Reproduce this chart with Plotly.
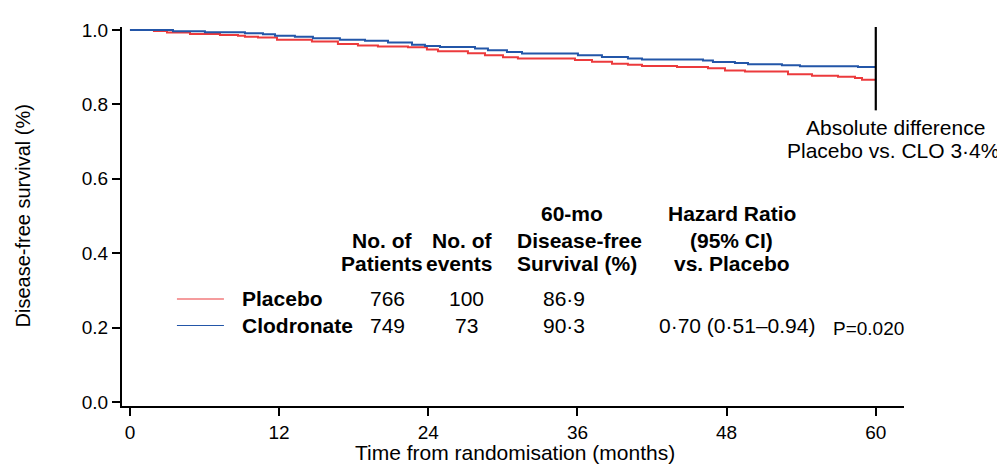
import plotly.graph_objects as go

# Kaplan-Meier step data (months, survival proportion)
placebo_t = [0, 1.93, 2.98, 4.83, 7.24, 8.69, 9.25, 10.30, 11.83, 14.64, 16.73, 18.34, 19.95,
             22.37, 23.89, 24.78, 27.19, 28.56, 30.01, 31.21, 35.80, 37.17, 38.78, 40.06,
             41.19, 44.01, 46.50, 47.87, 49.48, 52.94, 54.87, 56.96, 58.33, 58.89, 60]
placebo_s = [1.0, 0.9974, 0.9929, 0.9894, 0.9868, 0.9842, 0.9815, 0.9797, 0.9736, 0.9691, 0.9620,
             0.9586, 0.9559, 0.9533, 0.9472, 0.9427, 0.9375, 0.9322, 0.9269, 0.9235, 0.9190,
             0.9145, 0.9092, 0.9066, 0.9032, 0.9005, 0.8971, 0.8908, 0.8881, 0.8813, 0.8768,
             0.8741, 0.8707, 0.8662, 0.8662]

clodronate_t = [0, 3.46, 6.03, 9.25, 10.70, 11.67, 13.27, 14.72, 16.89, 18.91, 20.76, 22.69,
                23.73, 24.94, 27.76, 28.80, 30.33, 31.54, 36.04, 37.97, 40.06, 41.19, 46.10,
                46.90, 48.67, 49.72, 52.45, 53.90, 58.57, 60]
clodronate_s = [1.0, 0.9963, 0.9937, 0.9910, 0.9884, 0.9842, 0.9815, 0.9778, 0.9736, 0.9710,
                0.9665, 0.9604, 0.9567, 0.9541, 0.9499, 0.9454, 0.9409, 0.9367, 0.9322, 0.9277,
                0.9235, 0.9208, 0.9182, 0.9137, 0.9111, 0.9077, 0.9050, 0.9024, 0.9005, 0.9005]

x_ticks = [0, 12, 24, 36, 48, 60]
y_ticks = [0.0, 0.2, 0.4, 0.6, 0.8, 1.0]

groups = ["Placebo", "Clodronate"]
n_patients = ["766", "749"]
n_events = ["100", "73"]
dfs_60 = ["86·9", "90·3"]
hazard = ["", "0·70 (0·51–0.94)"]
p_value = "P=0.020"

RED = "#ec3a3c"
BLUE = "#2356a8"
FONT = "Liberation Sans, Arial, Helvetica, sans-serif"

W, H = 1005, 464
ML, MR, MT, MB = 114, 109, 12, 66
PW, PH = W - ML - MR, H - MT - MB
OFF = 8  # page body margin


def px(sx):
    return (sx - OFF - ML) / PW


def py(sy):
    return (H - MB - (sy - OFF)) / PH


fig = go.Figure()
fig.add_trace(go.Scatter(x=placebo_t, y=placebo_s, mode="lines", line=dict(color=RED, width=2, shape="hv"),
                         showlegend=False, hoverinfo="skip"))
fig.add_trace(go.Scatter(x=clodronate_t, y=clodronate_s, mode="lines", line=dict(color=BLUE, width=2, shape="hv"),
                         showlegend=False, hoverinfo="skip"))

# legend-like short lines in the table
row_y = [0.277, 0.2058]
for yy, col in zip(row_y, [RED, BLUE]):
    fig.add_trace(go.Scatter(x=[3.78, 7.56], y=[yy, yy], mode="lines", line=dict(color=col, width=1.2),
                             showlegend=False, hoverinfo="skip", cliponaxis=False))

# vertical marker at 60 months
fig.add_shape(type="line", xref="x", yref="y", x0=60, x1=60, y0=0.784, y1=1.01,
              line=dict(color="black", width=2.2))

ann = []
TS = 21


def txt(x, y, s, bold=False, size=TS, xanchor="center"):
    ann.append(dict(x=x, y=y, xref="x", yref="y", text=f"<b>{s}</b>" if bold else s, showarrow=False,
                    xanchor=xanchor, yanchor="middle", font=dict(family=FONT, size=size, color="black")))


txt(61.6, 0.739, "Absolute difference")
txt(61.4, 0.675, "Placebo vs. CLO 3·4%")

h1, h2, h3 = 0.5066, 0.4354, 0.372
txt(35.6, h1, "60-mo", bold=True)
txt(48.4, h1, "Hazard Ratio", bold=True)
txt(20.3, h2, "No. of", bold=True)
txt(26.7, h2, "No. of", bold=True)
txt(36.2, h2, "Disease-free", bold=True)
txt(48.4, h2, "(95% CI)", bold=True)
txt(20.3, h3, "Patients", bold=True)
txt(26.5, h3, "events", bold=True)
txt(36.0, h3, "Survival (%)", bold=True)
txt(48.4, h3, "vs. Placebo", bold=True)

for i, yy in enumerate(row_y):
    txt(8.85, yy, groups[i], bold=True, xanchor="left")
    txt(20.7, yy, n_patients[i])
    txt(27.1, yy, n_events[i])
    txt(34.9, yy, dfs_60[i])
    if hazard[i]:
        txt(48.8, yy, hazard[i])
txt(59.4, 0.198, p_value, size=19)

# axis titles
ann.append(dict(x=px(515), y=py(453), xref="paper", yref="paper", showarrow=False,
                text="Time from randomisation (months)", xanchor="center", yanchor="middle",
                font=dict(family=FONT, size=21, color="black")))
ann.append(dict(x=px(22), y=py(213), xref="paper", yref="paper", showarrow=False, textangle=-90,
                text="Disease-free survival (%)", xanchor="center", yanchor="middle",
                font=dict(family=FONT, size=20, color="black")))

fig.update_layout(
    width=W, height=H,
    margin=dict(l=ML, r=MR, t=MT, b=MB),
    paper_bgcolor="white", plot_bgcolor="white",
    annotations=ann,
    font=dict(family=FONT, size=19, color="black"),
    xaxis=dict(range=[-0.64, 62.27], tickvals=x_ticks, ticktext=[str(v) for v in x_ticks],
               showgrid=False, zeroline=False, showline=True, linecolor="black", linewidth=2,
               ticks="outside", ticklen=8, tickwidth=1.5, tickcolor="black",
               tickfont=dict(family=FONT, size=19, color="black")),
    yaxis=dict(range=[-0.0106, 1.008], tickvals=y_ticks, ticktext=[f"{v:.1f}" for v in y_ticks],
               showgrid=False, zeroline=False, showline=True, linecolor="black", linewidth=2,
               ticks="outside", ticklen=8, tickwidth=1.5, tickcolor="black",
               tickfont=dict(family=FONT, size=19, color="black")),
)

fig.write_html("out.html")
